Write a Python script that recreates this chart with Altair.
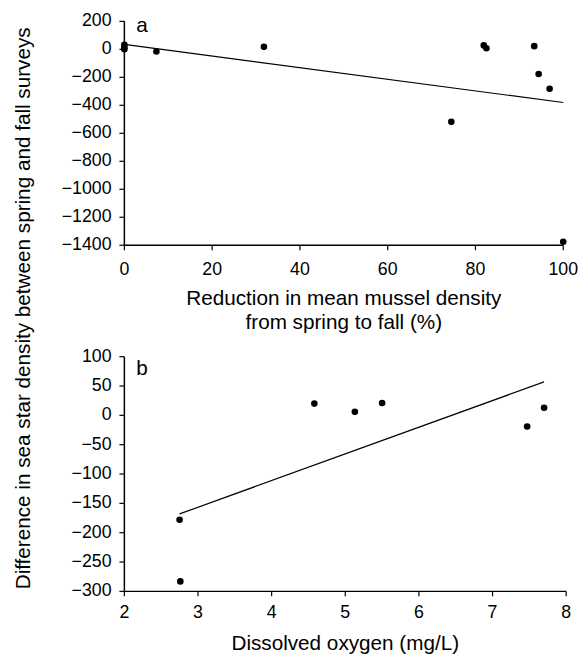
import altair as alt
import pandas as pd

# Panel a data
a_x = [0, 0, 0, 7.3, 31.8, 81.9, 82.5, 93.4, 94.4, 96.9, 74.5, 100]
a_y = [33, 15, 0, -15, 18, 28, 8, 23, -176, -282, -518, -1375]
a_line_x = [0, 100]
a_line_y = [35, -380]
a_xdomain = [0, 100]
a_ydomain = [-1400, 200]

# Panel b data
b_x = [2.75, 2.76, 4.58, 5.13, 5.50, 7.47, 7.70]
b_y = [-178, -283, 20, 6, 21, -19, 13]
b_line_x = [2.75, 7.70]
b_line_y = [-168, 57]
b_xdomain = [2, 8]
b_ydomain = [-300, 100]

a_xticks = [0, 20, 40, 60, 80, 100]
a_yticks = list(range(-1400, 201, 200))
b_xticks = [2, 3, 4, 5, 6, 7, 8]
b_yticks = list(range(-300, 101, 50))

a_xtitle = "Reduction in mean mussel density\nfrom spring to fall (%)"
b_xtitle = "Dissolved oxygen (mg/L)"
y_title = "Difference in sea star density between spring and fall surveys"

FONT = "Liberation Sans"
LABEL_SIZE = 18
TITLE_SIZE = 21


def panel(px, py, lx, ly, xdom, ydom, xticks, yticks, xtitle, letter, letter_y,
          w, h, xlab_dy, xtitle_y, ytitle=None):
    xs = alt.Scale(domain=xdom, nice=False)
    ys = alt.Scale(domain=ydom, nice=False)
    X = alt.X("x:Q", scale=xs, axis=None)
    Y = alt.Y("y:Q", scale=ys, axis=None)

    pts = alt.Chart(pd.DataFrame({"x": px, "y": py})).mark_circle(
        size=45, color="black", opacity=1).encode(x=X, y=Y)
    fit = alt.Chart(pd.DataFrame({"x": lx, "y": ly})).mark_line(
        color="black", strokeWidth=1.2).encode(x=X, y=Y)
    # axis lines (L shape along the scale domains)
    frame = alt.Chart(pd.DataFrame({
        "x": [xdom[1], xdom[0], xdom[0]],
        "y": [ydom[0], ydom[0], ydom[1]],
        "o": [0, 1, 2]})).mark_line(color="black", strokeWidth=1.5).encode(
        x=X, y=Y, order="o:Q")
    xdf = pd.DataFrame({"x": xticks, "y": [ydom[0]] * len(xticks)})
    ydf = pd.DataFrame({"x": [xdom[0]] * len(yticks), "y": yticks})
    xt = alt.Chart(xdf).mark_tick(
        orient="vertical", size=5, thickness=1.2, yOffset=2.5, color="black", opacity=1
    ).encode(x=X, y=Y)
    yt = alt.Chart(ydf).mark_tick(
        orient="horizontal", size=5, thickness=1.2, xOffset=-2.5, color="black", opacity=1
    ).encode(x=X, y=Y)
    xl = alt.Chart(xdf).mark_text(
        font=FONT, fontSize=LABEL_SIZE, align="center", baseline="top", dy=xlab_dy,
        color="black"
    ).encode(x=X, y=Y, text=alt.Text("x:Q", format="d"))
    yl = alt.Chart(ydf).mark_text(
        font=FONT, fontSize=LABEL_SIZE, align="right", baseline="middle", dx=-13,
        color="black"
    ).encode(x=X, y=Y, text=alt.Text("y:Q", format="d"))
    xtl = alt.Chart(pd.DataFrame({"t": [xtitle]})).mark_text(
        font=FONT, fontSize=TITLE_SIZE, align="center", baseline="top",
        lineBreak="\n", lineHeight=24, color="black"
    ).encode(x=alt.value(w / 2), y=alt.value(xtitle_y), text="t:N")
    lab = alt.Chart(pd.DataFrame({"t": [letter]})).mark_text(
        font=FONT, fontSize=TITLE_SIZE, align="left", baseline="middle", color="black"
    ).encode(x=alt.value(12), y=alt.value(letter_y), text="t:N")
    layers = [pts, fit, xl, yl, xtl, lab]
    if ytitle is not None:
        ytl = alt.Chart(pd.DataFrame({"t": [ytitle]})).mark_text(
            font=FONT, fontSize=21, align="center", baseline="alphabetic", angle=270,
            color="black"
        ).encode(x=alt.value(-95.5), y=alt.value(-49), text="t:N")
        layers.append(ytl)
    layers += [frame, xt, yt]
    return alt.layer(*layers).properties(width=w, height=h)


chart_a = panel(a_x, a_y, a_line_x, a_line_y, a_xdomain, a_ydomain, a_xticks, a_yticks,
                a_xtitle, "a", 5, 445, 227, 16, 271)
chart_b = panel(b_x, b_y, b_line_x, b_line_y, b_xdomain, b_ydomain, b_xticks, b_yticks,
                b_xtitle, "b", 13, 448, 238, 13, 280, ytitle=y_title)

chart = alt.vconcat(chart_a, chart_b, spacing=113, bounds="flush").properties(
    padding={"left": 5, "top": 0, "right": 0, "bottom": 0}, background="white"
).configure_view(strokeWidth=0)

chart.save("out.html", embed_options={"renderer": "svg", "actions": False})
